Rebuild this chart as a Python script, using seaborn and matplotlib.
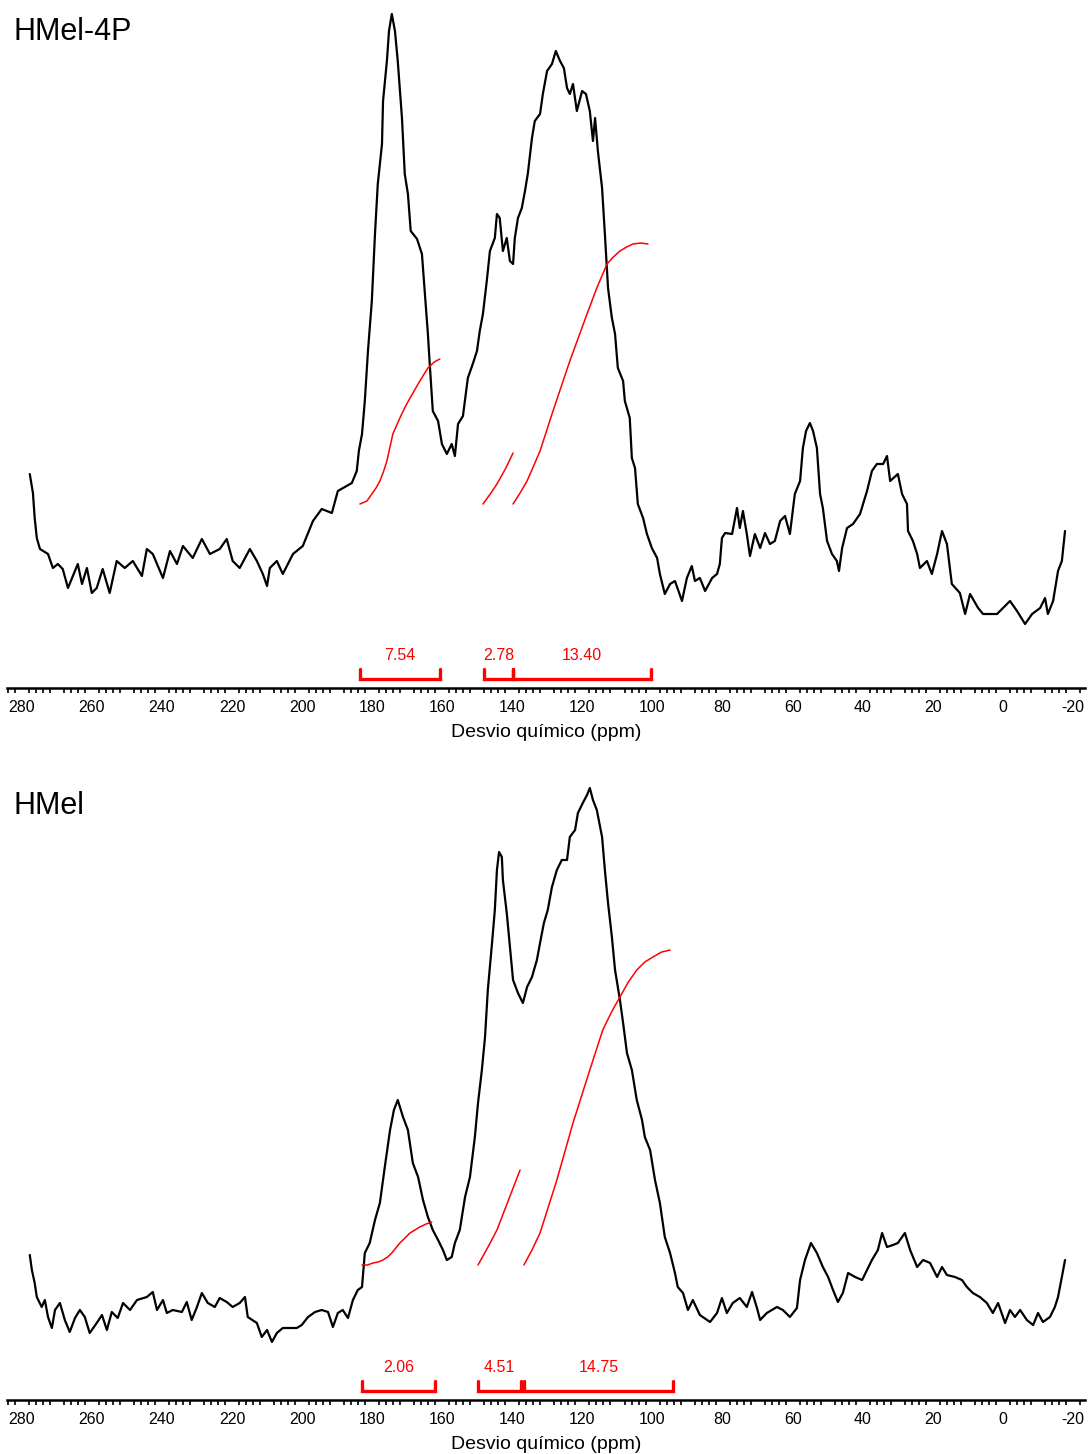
import pandas as pd
import seaborn as sns
import matplotlib.pyplot as plt
from matplotlib.ticker import FixedLocator

# %%    Spectrum data (ppm, intensity in arbitrary units)
top_ppm = [277.7, 276.8, 276.3, 275.7, 274.8, 272.5, 271.1, 269.7, 268.3, 266.8, 264.0, 262.8, 261.4, 260.0,
           258.6, 256.9, 254.9, 252.9, 250.6, 248.3, 245.7, 244.3, 242.6, 239.7, 237.7, 235.7, 234.0, 231.2,
           228.6, 226.3, 223.5, 221.5, 219.8, 217.8, 214.9, 212.9, 211.2, 210.0, 209.2, 207.2, 205.5, 202.6,
           199.8, 196.9, 194.4, 191.5, 189.8, 185.8, 184.4, 183.8, 182.9, 182.1, 181.2, 180.1, 179.2, 178.4,
           177.2, 176.9, 175.8, 175.2, 174.4, 173.5, 172.7, 171.5, 170.7, 169.8, 169.0, 167.2, 165.8, 165.0,
           164.1, 163.5, 162.7, 161.2, 160.1, 158.7, 157.3, 156.4, 155.5, 154.1, 152.7, 151.3, 150.1, 149.3,
           148.4, 147.3, 146.4, 145.0, 144.4, 143.6, 142.7, 141.6, 140.7, 139.8, 139.3, 138.4, 137.3, 136.4,
           135.6, 134.4, 133.6, 132.1, 131.3, 130.1, 128.7, 127.6, 126.4, 125.3, 124.4, 123.6, 122.7, 121.6,
           120.1, 119.0, 117.9, 117.0, 116.4, 115.6, 114.4, 113.6, 112.7, 111.6, 110.7, 109.9, 108.4, 107.9,
           106.5, 105.9, 105.0, 104.2, 102.7, 101.6, 100.2, 98.7, 97.9, 96.5, 95.0, 93.6, 91.6, 90.2, 88.8,
           87.9, 86.5, 85.0, 83.0, 81.6, 80.8, 80.2, 79.3, 77.3, 75.9, 75.1, 74.2, 73.1, 72.2, 70.8, 69.3,
           67.9, 66.5, 65.1, 63.6, 62.2, 60.8, 59.4, 57.9, 57.1, 56.2, 55.1, 54.2, 53.1, 52.2, 51.4, 50.2,
           48.8, 47.4, 46.8, 45.9, 44.5, 42.8, 40.8, 38.8, 37.4, 36.0, 34.2, 33.1, 32.2, 30.0, 28.8, 27.4,
           27.1, 25.7, 24.5, 23.7, 21.7, 20.3, 18.8, 17.4, 16.0, 14.6, 12.3, 10.8, 9.4, 7.1, 5.7, 1.7, 0.0,
           -2.0, -4.0, -6.3, -8.3, -10.6, -12.0, -12.8, -14.3, -15.7, -16.8, -17.7]
top_int = [214, 195, 170, 150, 139, 134, 120, 124, 119, 100, 124, 104, 120, 95,
           100, 119, 95, 127, 120, 127, 112, 139, 134, 110, 137, 124, 142, 130,
           149, 134, 139, 149, 127, 120, 139, 127, 114, 102, 120, 127, 114, 134,
           142, 167, 179, 175, 197, 205, 217, 237, 254, 287, 337, 387, 454, 504,
           544, 587, 627, 657, 674, 657, 627, 570, 514, 494, 457, 449, 434, 397,
           354, 320, 277, 267, 244, 234, 244, 232, 264, 272, 310, 324, 337, 357,
           374, 407, 437, 450, 474, 470, 437, 450, 427, 424, 450, 470, 480, 497,
           514, 550, 567, 574, 594, 617, 624, 637, 627, 620, 600, 594, 604, 577,
           597, 594, 577, 547, 570, 537, 500, 454, 400, 370, 354, 320, 307, 287,
           270, 230, 220, 184, 170, 154, 140, 130, 114, 94, 104, 107, 87, 110, 122,
           107, 110, 97, 110, 114, 124, 150, 155, 154, 180, 160, 177, 154, 132, 154, 140,
           155, 144, 147, 167, 172, 154, 194, 207, 240, 257, 265, 257, 240, 194, 180, 147,
           134, 127, 117, 140, 160, 164, 174, 197, 217, 224, 224, 232, 207, 214, 194, 184,
           157, 147, 134, 120, 127, 114, 134, 157, 144, 104, 95, 74, 94, 80, 74, 74, 80,
           87, 77, 64, 74, 80, 90, 74, 87, 117, 127, 157]

bot_ppm = [277.7, 277.1, 276.3, 275.7, 274.3, 273.4, 272.5, 271.4, 270.5, 269.1, 267.7, 266.3, 264.8, 263.4,
           262.0, 260.6, 258.6, 257.1, 255.7, 254.3, 252.6, 251.1, 249.1, 247.1, 244.3, 242.6, 241.4, 239.7,
           238.6, 236.9, 234.3, 232.9, 231.5, 230.0, 228.6, 226.9, 224.9, 223.5, 221.5, 219.8, 217.8, 216.3,
           215.5, 212.9, 211.5, 210.0, 208.6, 207.2, 205.5, 203.5, 201.5, 200.1, 198.3, 196.3, 194.4, 192.6,
           191.2, 189.8, 188.4, 186.9, 185.5, 184.1, 182.9, 182.1, 180.7, 179.2, 177.8, 176.4, 174.9, 173.8,
           172.7, 171.2, 169.8, 168.4, 166.9, 165.5, 164.1, 162.7, 161.2, 159.8, 158.7, 157.3, 156.4, 155.0,
           153.5, 152.1, 150.7, 149.8, 148.7, 147.8, 147.0, 145.8, 145.0, 144.4, 143.8, 143.0, 142.7, 141.6,
           140.7, 139.8, 138.4, 137.0, 135.8, 134.4, 133.0, 132.1, 131.0, 129.9, 128.7, 127.3, 125.9, 124.4,
           123.6, 122.1, 121.3, 119.9, 118.7, 117.9, 117.0, 115.9, 114.4, 113.6, 112.7, 111.6, 110.7, 109.3,
           108.4, 107.3, 105.9, 104.5, 103.0, 102.2, 100.7, 99.3, 97.9, 96.5, 95.0, 93.6, 92.8, 91.3, 89.9,
           88.5, 86.5, 83.6, 81.6, 80.2, 78.8, 77.1, 75.1, 73.1, 71.6, 70.2, 69.3, 67.4, 64.5, 62.8, 60.8,
           58.8, 57.9, 56.5, 54.8, 53.1, 51.4, 49.9, 48.5, 47.1, 45.7, 44.2, 42.2, 40.2, 38.8, 37.4, 35.7,
           34.5, 33.1, 31.4, 30.0, 28.0, 26.5, 24.5, 22.8, 20.8, 18.8, 17.4, 16.0, 13.7, 11.7, 10.3, 8.6,
           6.6, 4.6, 2.9, 1.4, -0.6, -2.0, -3.4, -4.9, -6.8, -8.6, -10.0, -11.4, -13.4, -14.8, -15.7,
           -16.8, -17.7]
bot_int = [145, 130, 117, 103, 93, 100, 83, 72, 90, 97, 80, 68, 82, 90,
           83, 67, 77, 85, 70, 88, 82, 97, 90, 100, 103, 108, 90, 100,
           87, 90, 88, 98, 80, 93, 107, 97, 93, 102, 98, 93, 97, 103,
           83, 77, 63, 70, 58, 67, 72, 72, 72, 75, 83, 88, 90, 88,
           73, 87, 90, 82, 100, 110, 113, 147, 157, 180, 197, 233, 270, 290,
           300, 283, 270, 237, 223, 200, 183, 170, 160, 150, 140, 143, 157, 170,
           203, 223, 263, 297, 330, 363, 410, 457, 490, 530, 548, 543, 520, 487,
           453, 420, 407, 397, 413, 423, 440, 457, 477, 490, 513, 530, 540, 540,
           563, 570, 587, 597, 605, 612, 600, 590, 563, 530, 497, 463, 430, 400,
           377, 347, 330, 300, 280, 263, 250, 220, 197, 163, 147, 127, 113, 107, 90,
           100, 85, 78, 87, 102, 87, 97, 102, 93, 108, 92, 80, 87, 93, 90, 83,
           92, 120, 140, 157, 147, 133, 123, 110, 98, 107, 127, 123, 120, 130, 140, 150,
           167, 153, 155, 157, 167, 150, 133, 140, 137, 123, 133, 125, 123, 120, 113, 107,
           103, 97, 87, 97, 77, 90, 83, 90, 80, 75, 87, 78, 83, 93, 103,
           123, 140]

# %%    Integral curves (red)
top_int_ppm = [[183.5, 181.5, 180.1, 178.9, 177.8, 176.8, 175.8, 174.1, 172.1, 170.6, 169.2, 166.4, 164.1, 162.3, 160.7],
               [148.4, 146.3, 144.4, 142.0, 139.8],
               [139.8, 137.8, 135.8, 132.1, 128.4, 123.6, 118.7, 115.9, 113.0, 111.2, 109.3, 107.4, 105.6, 103.4, 101.3]]
top_int_val = [[184, 187, 194, 200, 207, 216, 227, 254, 270, 281, 290, 307, 320, 326, 329],
               [184, 194, 204, 219, 235],
               [184, 195, 207, 237, 277, 327, 374, 400, 424, 431, 437, 441, 444, 445, 444]]
bot_int_ppm = [[182.9, 181.3, 179.8, 178.3, 176.9, 175.6, 174.4, 172.1, 169.2, 166.4, 164.6, 163.0],
               [149.8, 147.1, 144.4, 141.1, 137.8],
               [136.7, 134.4, 132.1, 127.3, 122.7, 117.9, 114.2, 111.7, 109.3, 106.9, 104.5, 102.2, 99.9, 97.4, 95.0]]
bot_int_val = [[135, 135, 137, 138, 140, 143, 147, 157, 167, 173, 176, 178],
               [135, 152, 170, 200, 230],
               [135, 150, 167, 220, 277, 330, 370, 388, 403, 418, 430, 438, 443, 448, 450]]

# Integration regions and values
top_regions = [(183.5, 160.7), (148.1, 139.8), (139.8, 100.5)]
top_labels = ['7.54', '2.78', '13.40']
bot_regions = [(182.9, 162.1), (149.8, 137.6), (136.7, 94.2)]
bot_labels = ['2.06', '4.51', '14.75']

major_ticks = list(range(280, -21, -10))
minor_ticks = list(range(284, -24, -2))

# %%    Plot
sns.set_style('white')
plt.rcParams['font.family'] = ['Liberation Sans', 'DejaVu Sans']
plt.rcParams['axes.unicode_minus'] = False
plt.rcParams['text.color'] = 'black'

W, H = 1091, 1454
fig = plt.figure(figsize=(W / 100, H / 100), dpi=100)
ax_top = fig.add_axes([7 / W, (H - 688) / H, 1078 / W, 688 / H])
ax_bot = fig.add_axes([7 / W, (H - 1400) / H, 1078 / W, 640 / H])


def draw_panel(ax, ppm, inten, int_ppm, int_val, regions, labels, name, ymax, name_y):
    df = pd.DataFrame({'ppm': ppm, 'intensity': inten})
    sns.lineplot(data=df, x='ppm', y='intensity', sort=False, estimator=None,
                 color='black', linewidth=1.6, ax=ax)
    for xs, ys in zip(int_ppm, int_val):
        sns.lineplot(x=xs, y=ys, sort=False, estimator=None, color='#ff0000', linewidth=1.1, ax=ax)
    # integration brackets
    for (a, b), lab in zip(regions, labels):
        ax.plot([a, a, b, b], [19, 9, 9, 19], color='#ff0000', linewidth=2.4, solid_joinstyle='miter')
        ax.text((a + b) / 2, 32, lab, color='#ff0000', fontsize=11.5, ha='center', va='center')
    ax.text(6 / 1078, name_y, name, transform=ax.transAxes, fontsize=22, color='black',
            ha='left', va='center')
    ax.set_xlim(284.2, -23.4)
    ax.set_ylim(0, ymax)
    ax.set_xticks(major_ticks, labels=[str(v) if v % 20 == 0 else '' for v in major_ticks])
    ax.xaxis.set_minor_locator(FixedLocator(minor_ticks))
    ax.tick_params(axis='x', which='major', length=6, width=1.4, labelsize=11.5, pad=3, colors='black')
    ax.tick_params(axis='x', which='minor', length=3.5, width=1.2, bottom=True, colors='black')
    ax.set_xlabel('Desvio químico (ppm)', fontsize=14, labelpad=6, color='black')
    ax.set_ylabel('')
    ax.set_yticks([])
    for s in ['top', 'right', 'left']:
        ax.spines[s].set_visible(False)
    ax.spines['bottom'].set_linewidth(1.8)
    ax.spines['bottom'].set_color('black')


draw_panel(ax_top, top_ppm, top_int, top_int_ppm, top_int_val, top_regions, top_labels,
           'HMel-4P', 688, 0.953)
draw_panel(ax_bot, bot_ppm, bot_int, bot_int_ppm, bot_int_val, bot_regions, bot_labels,
           'HMel', 640, 0.928)

fig.savefig('out.png', dpi=100)
